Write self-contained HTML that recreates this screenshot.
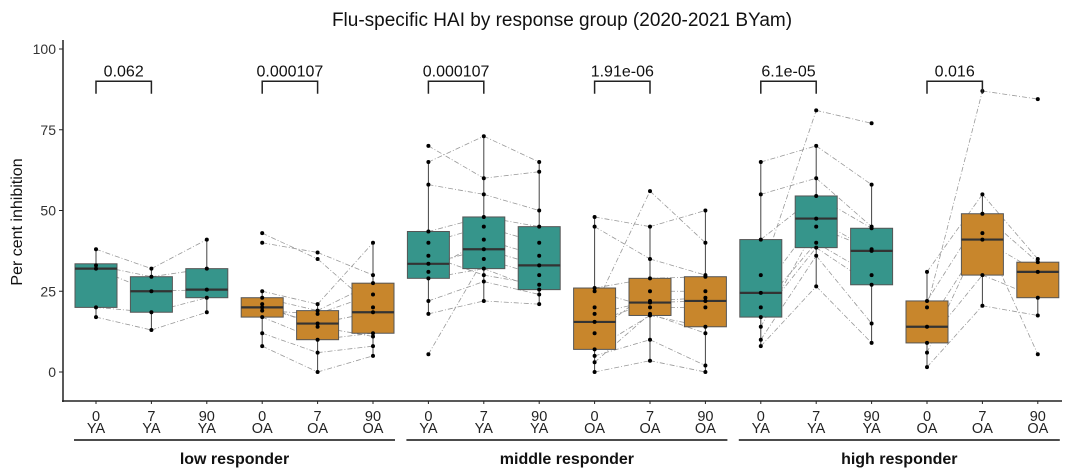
<!DOCTYPE html>
<html><head><meta charset="utf-8"><style>
html,body{margin:0;padding:0;background:#fff}
svg{display:block;font-family:"Liberation Sans",Arial,sans-serif}
</style></head><body>
<svg id="chart" width="1080" height="475" viewBox="0 0 1080 475">
<text x="562" y="26" font-size="19" text-anchor="middle" fill="#111">Flu-specific HAI by response group (2020-2021 BYam)</text>
<text transform="translate(22,222) rotate(-90)" font-size="16" text-anchor="middle" fill="#111">Per cent inhibition</text>
<g id="axes"></g><g id="lines"></g><g id="boxes"></g><g id="pts"></g><g id="brackets"></g><g id="xlab"></g>
</svg>
<script>
// ---- data ----
const days = ["0","7","90","0","7","90","0","7","90","0","7","90","0","7","90","0","7","90"];
const ages = ["YA","YA","YA","OA","OA","OA","YA","YA","YA","OA","OA","OA","YA","YA","YA","OA","OA","OA"];
const groups = ["low responder","middle responder","high responder"];
const yTicks = [0,25,50,75,100];
const q1 =  [20,18.5,23,17,10,12,29,32,25.5,7,17.5,14,17,38.5,27,9,30,23];
const med = [32,25,25.5,20,15,18.5,33.5,38,33,15.5,21.5,22,24.5,47.5,37.5,14,41,31];
const q3 =  [33.5,29.5,32,23,19,27.5,43.5,48,45,26,29,29.5,41,54.5,44.5,22,49,34];
const lo =  [17,13,18.5,8,0,5,18,22,21,0,3.5,0,8,26.5,9,1.5,20.5,17.5];
const hi =  [38,32,41,25,21,40,65,73,65,48,45,50,65,70,58,31,55,35];
const pLabels = ["0.062","0.000107","0.000107","1.91e-06","6.1e-05","0.016"];
// subject values per box (same subjects across day 0/7/90 within group-age)
const subj = [
 [32,33,20,17,38],[25,29.5,18.5,13,32],[25.5,32,23,18.5,41],
 [20,23,17,8,25,43,40,21,12,19],[15,19,10,0,21,35,37,14,6,18],[18.5,27.5,12,5,40,20,30,11,8,24],
 [33.5,43.5,29,18,65,70,5.5,40,31,58,36,22],[38,48,32,22,73,60,35,45,41,55,30,28],[33,45,25.5,21,65,62,30,40,36,50,27,24],
 [15.5,26,7,0,48,20,12,3,25,45,18,5],[21.5,29,17.5,3.5,45,56,25,18,20,35,22,10],[22,29.5,14,0,50,40,25,12,20,30,23,2],
 [24.5,41,17,8,65,30,14,55,20,10],[47.5,54.5,38.5,26.5,70,81,45,60,40,36],[37.5,44.5,27,9,58,77,38,45,30,15],
 [14,22,9,1.5,31,20,6],[41,49,30,20.5,55,87,43],[31,34,23,17.5,35,84.5,5.5]
];
// ---- scales ----
const x0 = 96, dx = 55.4;
const X = i => x0 + i*dx;
const Y = v => 372 - v*3.23;
const NS = "http://www.w3.org/2000/svg";
function mk(parent, tag, attrs){const e=document.createElementNS(NS,tag);for(const k in attrs)e.setAttribute(k,attrs[k]);document.getElementById(parent).appendChild(e);return e;}
const colorFor = a => a==="YA" ? "#36958b" : "#c8862c";
// axes
let e = mk("axes","line",{x1:63,y1:40,x2:63,y2:402,stroke:"#222","stroke-width":1.5});


e = mk("axes","line",{x1:62,y1:401,x2:1062,y2:401,stroke:"#222","stroke-width":1.5});


yTicks.forEach(t=>{
  const tk = mk("axes","line",{x1:59,y1:Y(t),x2:63,y2:Y(t),stroke:"#222","stroke-width":1});
  
  
  const tl = mk("axes","text",{x:56,y:Y(t)+5,"font-size":14,"text-anchor":"end",fill:"#333"});
  tl.textContent = t;
  
  
});
// paired lines
for(let b=0;b<18;b+=3){
  for(let k=0;k<2;k++){
    const a=subj[b+k], c=subj[b+k+1];
    for(let s=0;s<Math.min(a.length,c.length);s++){
      const l = mk("lines","line",{x1:X(b+k),y1:Y(a[s]),x2:X(b+k+1),y2:Y(c[s]),stroke:"#999","stroke-width":0.8,"stroke-dasharray":"5,2,1,2"});
      
      
    }
  }
}
// boxes
for(let i=0;i<18;i++){
  const cx=X(i), w=42;
  const wl = mk("boxes","line",{x1:cx,y1:Y(hi[i]),x2:cx,y2:Y(lo[i]),stroke:"#444","stroke-width":1});
  
  
  const r = mk("boxes","rect",{x:cx-w/2,y:Y(q3[i]),width:w,height:Y(q1[i])-Y(q3[i]),fill:colorFor(ages[i]),stroke:"#555","stroke-width":1});
  
  
  const m = mk("boxes","line",{x1:cx-w/2,y1:Y(med[i]),x2:cx+w/2,y2:Y(med[i]),stroke:"#333","stroke-width":2.2});
  
  
  subj[i].forEach(v=>{
    const p = mk("pts","circle",{cx:cx,cy:Y(v),r:2,fill:"#000"});
    
    
  });
  const t1 = mk("xlab","text",{x:cx,y:421,"font-size":14.5,"text-anchor":"middle",fill:"#222"});
  t1.textContent = days[i];
  
  
  const t2 = mk("xlab","text",{x:cx,y:433,"font-size":14.5,"text-anchor":"middle",fill:"#222"});
  t2.textContent = ages[i];
  
  
  const tk = mk("xlab","line",{x1:cx,y1:401,x2:cx,y2:404,stroke:"#222"});
  
  
}
// brackets
pLabels.forEach((lab,j)=>{
  const a=X(j*3), b=X(j*3+1), yb=Y(90), yt=Y(88);
  const pl = mk("brackets","polyline",{points:`${a},${yt+6} ${a},${yb} ${b},${yb} ${b},${yt+6}`,fill:"none",stroke:"#222","stroke-width":1.5});
  
  
  const t = mk("brackets","text",{x:(a+b)/2,y:yb-5,"font-size":16,"text-anchor":"middle",fill:"#111"});
  t.textContent = lab;
  
  
});
// group labels
groups.forEach((g,j)=>{
  const a=X(j*6)-22, b=X(j*6+5)+22;
  const l = mk("xlab","line",{x1:a,y1:440,x2:b,y2:440,stroke:"#111","stroke-width":1.5});
  
  
  const t = mk("xlab","text",{x:(a+b)/2,y:464,"font-size":16,"font-weight":"bold","text-anchor":"middle",fill:"#111"});
  t.textContent = g;
  
  
});
</script>
</body></html>
